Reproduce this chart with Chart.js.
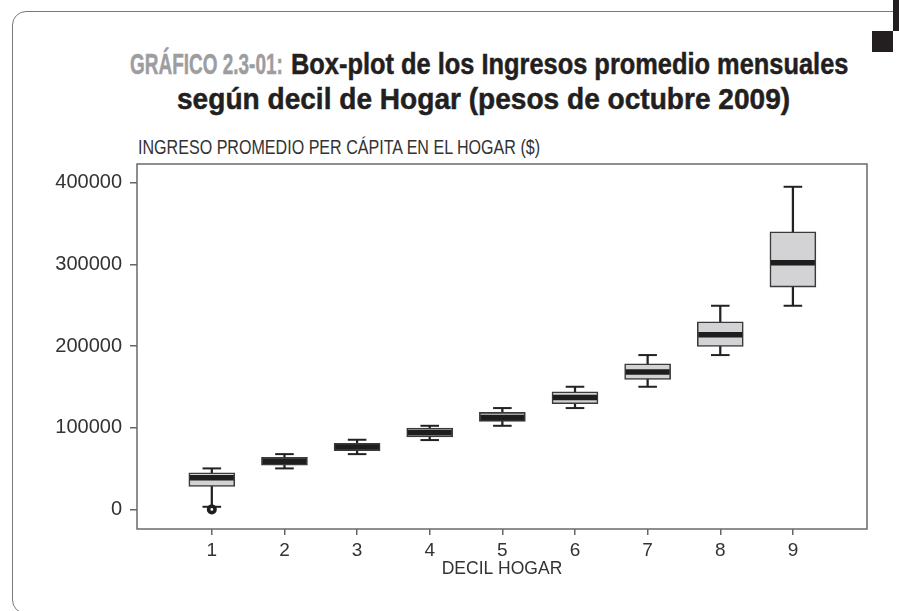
<!DOCTYPE html>
<html>
<head>
<meta charset="utf-8">
<script src="https://cdn.jsdelivr.net/npm/chart.js@4.4.1/dist/chart.umd.min.js"></script>
<style>
  html, body { margin: 0; padding: 0; background: #fff; }
  #page { position: relative; width: 899px; height: 611px; overflow: hidden; }
  #frame { position: absolute; left: 12px; top: 11px; width: 1000px; height: 603px;
           border: 1.5px solid #7a7a7a; border-radius: 14px; box-sizing: border-box; }
  .mark1 { position: absolute; left: 893px; top: 0; width: 6px; height: 31px; background: #231f20; }
  .mark2 { position: absolute; left: 872px; top: 31px; width: 21px; height: 21px; background: #231f20; }
  .tpart { position: absolute; white-space: nowrap; transform-origin: left center;
           font-family: 'Liberation Sans', Arial, sans-serif; font-weight: bold;
           font-size: 30px; line-height: 30px; color: #231f20;
           -webkit-text-stroke: 0.5px #231f20; }
  .tpart.grey { color: #9d9d9f; -webkit-text-stroke: 0.5px #9d9d9f; }
  #ycaption { position: absolute; left: 138px; top: 137px; white-space: nowrap;
              transform-origin: left center;
              font-family: 'Liberation Sans', Arial, sans-serif;
              font-size: 21px; line-height: 20px; color: #333; }
  canvas { position: absolute; left: 0; top: 0; }
</style>
</head>
<body>
<div id="page">
  <div id="frame"></div>
  <div class="mark1"></div>
  <div class="mark2"></div>
  <div class="tpart grey" style="left:130px; top:49px" data-w="153">GRÁFICO 2.3-01:</div>
  <div class="tpart" style="left:291px; top:49px" data-w="557">Box-plot de los Ingresos promedio mensuales</div>
  <div class="tpart" style="left:177px; top:84px" data-w="613">según decil de Hogar (pesos de octubre 2009)</div>
  <div id="ycaption" data-w="402">INGRESO PROMEDIO PER CÁPITA EN EL HOGAR ($)</div>
  <canvas id="box" width="899" height="611"></canvas>
</div>
<script>
// deciles y estadisticos
var deciles     = [1, 2, 3, 4, 5, 6, 7, 8, 9];
var whiskerLow  = [3200, 50200, 67700, 84900, 102400, 124100, 150200, 189000, 249400];
var q1          = [28100, 54300, 71800, 88900, 107800, 129400, 159200, 199600, 272300];
var medians     = [38700, 59100, 76300, 94300, 112700, 137100, 168200, 213900, 302000];
var q3          = [44800, 63700, 80800, 99600, 118800, 144100, 178400, 229800, 340000];
var whiskerHigh = [50200, 67700, 85300, 102400, 124100, 150200, 189000, 249400, 395100];
var outlierDecil = [1];
var outlierValue = [0];
var yTicks = [0, 100000, 200000, 300000, 400000];

// letra condensada: se estira el texto al ancho del original
document.querySelectorAll('[data-w]').forEach(function(el) {
  var k = parseFloat(el.getAttribute('data-w')) / el.offsetWidth;
  el.style.transform = 'scaleX(' + k + ')';
});

var stems = [], boxes = [], meds = [], caps = [], outs = [];
for (var i in deciles) {
  stems.push({x: deciles[i], y: [whiskerLow[i], whiskerHigh[i]]});
  boxes.push({x: deciles[i], y: [q1[i], q3[i]]});
  meds.push({x: deciles[i], y: medians[i]});
  caps.push({x: deciles[i], y: whiskerLow[i]});
  caps.push({x: deciles[i], y: whiskerHigh[i]});
}
for (var j in outlierDecil) {
  outs.push({x: outlierDecil[j], y: outlierValue[j]});
}

var sans = "'Liberation Sans', Arial, sans-serif";

// marco completo del area de dibujo
var framePlugin = {
  id: 'frame',
  beforeDatasetsDraw: function(chart) {
    var a = chart.chartArea, ctx = chart.ctx;
    ctx.save();
    ctx.strokeStyle = '#6a6a6a';
    ctx.lineWidth = 1.5;
    ctx.strokeRect(a.left, a.top, a.right - a.left, a.bottom - a.top);
    ctx.restore();
  }
};

var ctx = document.getElementById('box');
var boxChart = new Chart(ctx, {
  type: 'bar',
  data: {
    datasets: [
      {
        type: 'bar',
        data: stems,
        backgroundColor: '#222',
        barThickness: 1.6,
        grouped: false,
        order: 4
      },
      {
        type: 'bar',
        data: boxes,
        backgroundColor: '#d3d3d5',
        borderColor: '#3a3a3a',
        borderWidth: 1.6,
        borderSkipped: false,
        barThickness: 46,
        grouped: false,
        order: 3
      },
      {
        type: 'scatter',
        data: caps,
        pointStyle: 'line',
        pointRadius: 9.3,
        borderColor: '#222',
        borderWidth: 2,
        order: 2
      },
      {
        type: 'scatter',
        data: meds,
        pointStyle: 'line',
        pointRadius: 22,
        borderColor: '#1e1e1e',
        borderWidth: 5.5,
        order: 1
      },
      {
        type: 'scatter',
        data: outs,
        pointStyle: 'circle',
        pointRadius: 3.2,
        borderWidth: 3.6,
        borderColor: '#1e1e1e',
        backgroundColor: '#fff',
        order: 0
      }
    ]
  },
  options: {
    responsive: false,
    animation: false,
    events: [],
    layout: { padding: { left: 0, top: 164, right: 32, bottom: 0 } },
    plugins: {
      legend: { display: false },
      title: { display: false },
      tooltip: { enabled: false }
    },
    scales: {
      x: {
        type: 'linear',
        min: -0.03,
        max: 10.02,
        offset: false,
        afterFit: function(s) { s.height = 82; },
        afterBuildTicks: function(s) {
          s.ticks = deciles.map(function(v) { return {value: v}; });
        },
        grid: { offset: false, drawOnChartArea: false, tickLength: 6, color: '#666', lineWidth: 1.5 },
        border: { display: false },
        ticks: {
          color: '#333', padding: 4, maxRotation: 0,
          font: { family: sans, size: 19 },
          callback: function(v) { return String(v); }
        },
        title: {
          display: true,
          text: 'DECIL HOGAR',
          color: '#333',
          font: { family: sans, size: 17.5 },
          padding: { top: 0, bottom: 31 }
        }
      },
      y: {
        type: 'linear',
        min: -24000,
        max: 423000,
        afterFit: function(s) { s.width = 137; },
        afterBuildTicks: function(s) {
          s.ticks = yTicks.map(function(v) { return {value: v}; });
        },
        grid: { drawOnChartArea: false, tickLength: 7, color: '#666', lineWidth: 1.5 },
        border: { display: false },
        ticks: {
          color: '#333', padding: 8,
          font: { family: sans, size: 20 },
          callback: function(v) { return String(v); }
        }
      }
    }
  },
  plugins: [framePlugin]
});
</script>
</body>
</html>
